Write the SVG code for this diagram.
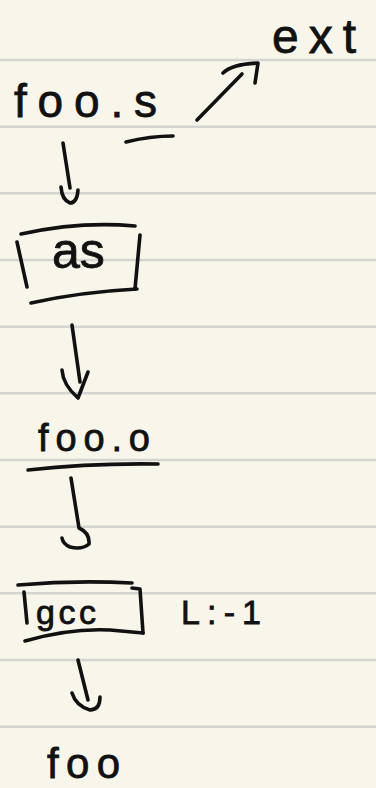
<svg xmlns="http://www.w3.org/2000/svg" width="376" height="788" viewBox="0 0 376 788">
  <style>
    .paper { fill: #f8f6ea; }
    .rule { stroke: #d4d4d2; stroke-width: 2.5; }
    .ink { fill: none; stroke: #111; stroke-width: 3.6; stroke-linecap: round; stroke-linejoin: round; }
    .hand { font-family: "Liberation Sans", "DejaVu Sans", sans-serif; fill: #111; stroke: #111; stroke-width: 0.8; }
  </style>

  <!-- ruled notebook page -->
  <rect class="paper" x="0" y="0" width="376" height="788"/>
  <g id="ruling">
    <line class="rule" x1="0" y1="60" x2="376" y2="60"/>
    <line class="rule" x1="0" y1="126.7" x2="376" y2="126.7"/>
    <line class="rule" x1="0" y1="193.3" x2="376" y2="193.3"/>
    <line class="rule" x1="0" y1="260" x2="376" y2="260"/>
    <line class="rule" x1="0" y1="326.7" x2="376" y2="326.7"/>
    <line class="rule" x1="0" y1="393.3" x2="376" y2="393.3"/>
    <line class="rule" x1="0" y1="460" x2="376" y2="460"/>
    <line class="rule" x1="0" y1="526.7" x2="376" y2="526.7"/>
    <line class="rule" x1="0" y1="593.3" x2="376" y2="593.3"/>
    <line class="rule" x1="0" y1="660" x2="376" y2="660"/>
    <line class="rule" x1="0" y1="726.7" x2="376" y2="726.7"/>
  </g>

  <!-- source file -->
  <g id="n-foo-s">
    <text class="hand" x="14" y="117" font-size="46" textLength="143" lengthAdjust="spacing">foo.s</text>
    <path class="ink" d="M126,142 Q150,136 173,136"/>
  </g>

  <!-- extension label -->
  <g id="n-ext">
    <text class="hand" x="272" y="53" font-size="48" textLength="84" lengthAdjust="spacing">ext</text>
  </g>

  <!-- assembler step -->
  <g id="n-as">
    <path class="ink" d="M21,234 Q80,221 135,226"/>
    <path class="ink" d="M17,242 L27,287"/>
    <path class="ink" d="M140,235 L135,289"/>
    <path class="ink" d="M31,303 Q80,292 137,289"/>
    <text class="hand" x="52" y="268" font-size="50">as</text>
  </g>

  <!-- object file -->
  <g id="n-foo-o">
    <text class="hand" x="38" y="451" font-size="38" textLength="112" lengthAdjust="spacing">foo.o</text>
    <path class="ink" d="M28,470 Q90,463 158,464"/>
  </g>

  <!-- link step -->
  <g id="n-gcc">
    <path class="ink" d="M18,585 Q75,580 132,583"/>
    <path class="ink" d="M24,592 L27,623"/>
    <path class="ink" d="M132,588 L140,589 L143,633"/>
    <path class="ink" d="M25,641 Q70,628 110,630 L143,633"/>
    <text class="hand" x="36" y="624" font-size="34" textLength="60" lengthAdjust="spacing">gcc</text>
  </g>

  <!-- linker flag -->
  <g id="n-flag">
    <text class="hand" x="181" y="624" font-size="34" textLength="80" lengthAdjust="spacing">L:-1</text>
  </g>

  <!-- executable -->
  <g id="n-foo">
    <text class="hand" x="47" y="778" font-size="42" textLength="73" lengthAdjust="spacing">foo</text>
  </g>

  <!-- connectors -->
  <g id="connectors">
    <!-- foo.s -> ext -->
    <path class="ink" d="M197,120 L242,74"/>
    <path class="ink" d="M223,73 Q232,64 258,63 L255,83"/>
    <!-- foo.s -> as -->
    <path class="ink" d="M63,143 L70,188"/>
    <path class="ink" d="M61,187 Q62,200 70,203 Q77,203 78,190"/>
    <!-- as -> foo.o -->
    <path class="ink" d="M72,325 L80,382"/>
    <path class="ink" d="M62,370 Q63,385 78,398 Q83,385 88,372"/>
    <!-- foo.o -> gcc -->
    <path class="ink" d="M71,478 L79,528 Q90,533 89,544 Q82,550 70,547 Q63,544 62,538"/>
    <!-- gcc -> foo -->
    <path class="ink" d="M78,660 L88,700"/>
    <path class="ink" d="M72,693 Q76,706 90,710 Q100,710 100,697"/>
  </g>
</svg>
